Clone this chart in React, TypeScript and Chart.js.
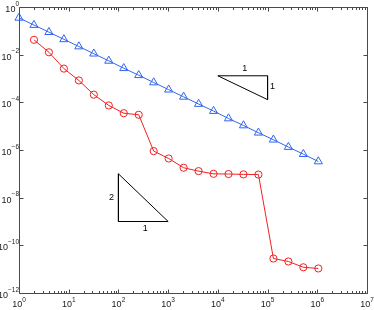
import React, { useEffect, useRef } from 'react';
import { Chart, registerables } from 'chart.js';

Chart.register(...registerables);

// Blue series (triangles)
const xBlue = [1, 2, 4, 8, 16, 32, 64, 128, 256, 512, 1024, 2048, 4096, 8192, 16384, 32768, 65536, 131072, 262144, 524288, 1048576];
const yBlue = [0.35, 0.175, 0.088, 0.044, 0.022, 0.011, 0.0055, 0.0027, 0.00137, 6.8e-4, 3.4e-4, 1.7e-4, 8.5e-5, 4.3e-5, 2.1e-5, 1.07e-5, 5.3e-6, 2.7e-6, 1.33e-6, 6.7e-7, 3.3e-7];

// Red series (circles)
const xRed = [2, 4, 8, 16, 32, 64, 128, 256, 512, 1024, 2048, 4096, 8192, 16384, 32768, 65536, 131072, 262144, 524288, 1048576];
const yRed = [0.042, 0.0126, 0.0026, 8.3e-4, 2.1e-4, 7.4e-5, 3.5e-5, 3.0e-5, 9e-7, 4.4e-7, 1.8e-7, 1.3e-7, 1.0e-7, 9.8e-8, 9.5e-8, 9.3e-8, 2.8e-11, 2.1e-11, 1.2e-11, 1.07e-11];

// Axis tick exponents
const xTickExps = [0, 1, 2, 3, 4, 5, 6, 7];
const yTickExps = [0, -2, -4, -6, -8, -10, -12];
const minorMultipliers = [2, 3, 4, 5, 6, 7, 8, 9];

// Slope triangles
const slopeOneX = [1e4, 1e5, 1e5, 1e4];
const slopeOneY = [1.3e-3, 1.3e-3, 1.3e-4, 1.3e-3];
const slopeTwoX = [1e2, 1e2, 1e3, 1e2];
const slopeTwoY = [1e-7, 1e-9, 1e-9, 1e-7];
const slopeOneLabels = ['1', '1'];
const slopeTwoLabels = ['2', '1'];

const BLUE = '#3366ee';
const RED = '#f22020';
const AXIS = '#4a4a4a';
const FONT = '"Liberation Sans", Arial, sans-serif';

const zip = (xs: number[], ys: number[]) => xs.map((x, i) => ({ x, y: ys[i] }));

const axesPlugin = {
  id: 'matlabAxes',
  afterDraw(chart: any) {
    const { ctx, chartArea } = chart;
    const xs = chart.scales.x;
    const ys = chart.scales.y;
    const L = Math.round(chartArea.left) + 0.5;
    const R = Math.round(chartArea.right) + 0.5;
    const T = Math.round(chartArea.top) + 0.5;
    const B = Math.round(chartArea.bottom) + 0.5;
    ctx.save();
    ctx.strokeStyle = AXIS;
    ctx.lineWidth = 1;
    ctx.beginPath();
    ctx.rect(L, T, R - L, B - T);
    ctx.stroke();

    // x ticks
    ctx.beginPath();
    xTickExps.forEach((e) => {
      const px = Math.round(xs.getPixelForValue(Math.pow(10, e))) + 0.5;
      ctx.moveTo(px, B); ctx.lineTo(px, B - 4);
      ctx.moveTo(px, T); ctx.lineTo(px, T + 4);
      if (e < 7) {
        minorMultipliers.forEach((m) => {
          const mx = Math.round(xs.getPixelForValue(m * Math.pow(10, e))) + 0.5;
          ctx.moveTo(mx, B); ctx.lineTo(mx, B - 2.5);
          ctx.moveTo(mx, T); ctx.lineTo(mx, T + 2.5);
        });
      }
    });
    // y ticks
    yTickExps.forEach((e) => {
      const py = Math.round(ys.getPixelForValue(Math.pow(10, e))) + 0.5;
      ctx.moveTo(L, py); ctx.lineTo(L + 4, py);
      ctx.moveTo(R, py); ctx.lineTo(R - 4, py);
    });
    ctx.stroke();

    // labels
    ctx.fillStyle = '#1a1a1a';
    ctx.textBaseline = 'middle';
    const baseFont = `9px ${FONT}`;
    const expFont = `6.5px ${FONT}`;
    xTickExps.forEach((e) => {
      const px = xs.getPixelForValue(Math.pow(10, e));
      const es = String(e);
      ctx.font = baseFont;
      const wb = ctx.measureText('10').width;
      ctx.font = expFont;
      const we = ctx.measureText(es).width;
      const start = px - (wb + we) / 2;
      ctx.font = baseFont;
      ctx.textAlign = 'left';
      ctx.fillText('10', start, B + 11);
      ctx.font = expFont;
      ctx.fillText(es, start + wb, B + 7);
    });
    yTickExps.forEach((e) => {
      const py = ys.getPixelForValue(Math.pow(10, e));
      const es = e === 0 ? '0' : '\u2212' + String(-e);
      ctx.font = expFont;
      const we = ctx.measureText(es).width;
      ctx.textAlign = 'right';
      ctx.fillText(es, L - 0.5, py - 3);
      ctx.font = baseFont;
      ctx.fillText('10', L - 0.5 - we, py + 2.5);
    });

    // slope labels
    ctx.fillStyle = '#000';
    ctx.font = `9px ${FONT}`;
    ctx.textAlign = 'center';
    const midLog = (a: number, b: number) => Math.sqrt(a * b);
    // slope one: top edge label and right edge label
    const s1TopX = xs.getPixelForValue(midLog(slopeOneX[0], slopeOneX[1]));
    const s1TopY = ys.getPixelForValue(slopeOneY[0]);
    ctx.fillText(slopeOneLabels[0], s1TopX + 2, s1TopY - 7);
    const s1RX = xs.getPixelForValue(slopeOneX[1]);
    const s1RY = ys.getPixelForValue(midLog(slopeOneY[1], slopeOneY[2]));
    ctx.fillText(slopeOneLabels[1], s1RX + 5, s1RY - 1);
    // slope two: left edge label and bottom edge label
    const s2LX = xs.getPixelForValue(slopeTwoX[0]);
    const s2LY = ys.getPixelForValue(midLog(slopeTwoY[0], slopeTwoY[1]));
    ctx.fillText(slopeTwoLabels[0], s2LX - 7, s2LY);
    const s2BX = xs.getPixelForValue(midLog(slopeTwoX[1], slopeTwoX[2]));
    const s2BY = ys.getPixelForValue(slopeTwoY[1]);
    ctx.fillText(slopeTwoLabels[1], s2BX + 2, s2BY + 7);
    ctx.restore();
  },
};

export default function App() {
  const ref = useRef<HTMLCanvasElement | null>(null);
  useEffect(() => {
    document.body.style.margin = '0';
    const canvas = ref.current;
    if (!canvas) return;
    const chart = new Chart(canvas, {
      type: 'scatter',
      data: {
        datasets: [
          {
            data: zip(slopeOneX, slopeOneY),
            showLine: true,
            borderColor: '#000',
            borderWidth: 1,
            pointRadius: 0,
            clip: false,
          } as any,
          {
            data: zip(slopeTwoX, slopeTwoY),
            showLine: true,
            borderColor: '#000',
            borderWidth: 1,
            pointRadius: 0,
            clip: false,
          } as any,
          {
            data: zip(xBlue, yBlue),
            showLine: true,
            borderColor: BLUE,
            borderWidth: 1,
            pointStyle: 'triangle',
            pointRadius: 4.7,
            pointBorderWidth: 1,
            pointBorderColor: BLUE,
            pointBackgroundColor: 'rgba(0,0,0,0)',
            clip: false,
          } as any,
          {
            data: zip(xRed, yRed),
            showLine: true,
            borderColor: RED,
            borderWidth: 1,
            pointStyle: 'circle',
            pointRadius: 3.6,
            pointBorderWidth: 1,
            pointBorderColor: RED,
            pointBackgroundColor: 'rgba(0,0,0,0)',
            clip: false,
          } as any,
        ],
      },
      options: {
        responsive: false,
        animation: false,
        layout: { padding: { left: 19, right: 7, top: 7, bottom: 17 } },
        plugins: { legend: { display: false }, tooltip: { enabled: false } },
        scales: {
          x: { type: 'logarithmic', min: 1, max: 1e7, display: false },
          y: { type: 'logarithmic', min: 1e-12, max: 1, display: false },
        },
      },
      plugins: [axesPlugin],
    });
    return () => chart.destroy();
  }, []);
  return <canvas ref={ref} width={374} height={310} style={{ display: 'block' }} />;
}
